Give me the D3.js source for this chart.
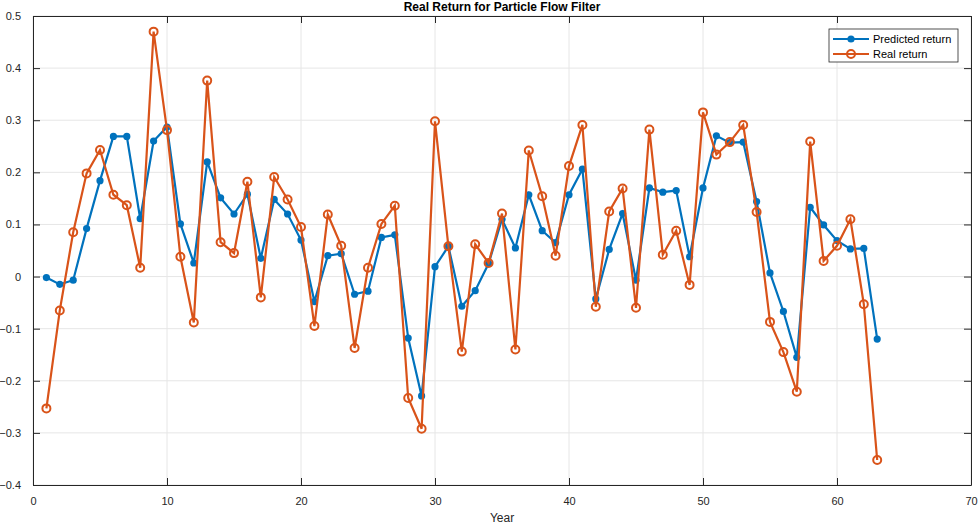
<!DOCTYPE html>
<html>
<head>
<meta charset="utf-8">
<script src="https://cdn.jsdelivr.net/npm/d3@7"></script>
<style>
  body { margin: 0; background: #fff; }
  svg { font-family: "Liberation Sans", Arial, sans-serif; }
</style>
</head>
<body>
<div id="chart"></div>
<script>
var years = d3.range(1, 64);
var predicted = [-0.002, -0.015, -0.007, 0.092, 0.184, 0.269, 0.269, 0.111, 0.260, 0.287,
  0.101, 0.026, 0.220, 0.151, 0.120, 0.158, 0.035, 0.148, 0.120, 0.070,
  -0.048, 0.040, 0.044, -0.034, -0.028, 0.075, 0.080, -0.118, -0.229, 0.019,
  0.058, -0.057, -0.027, 0.025, 0.110, 0.055, 0.157, 0.088, 0.065, 0.157,
  0.206, -0.043, 0.052, 0.121, -0.007, 0.170, 0.162, 0.165, 0.038, 0.170,
  0.270, 0.257, 0.258, 0.144, 0.007, -0.067, -0.155, 0.133, 0.099, 0.069,
  0.053, 0.054, -0.120];
var real = [-0.253, -0.065, 0.085, 0.198, 0.243, 0.157, 0.137, 0.017, 0.470, 0.281,
  0.038, -0.088, 0.376, 0.066, 0.045, 0.182, -0.040, 0.191, 0.148, 0.095,
  -0.095, 0.119, 0.059, -0.137, 0.017, 0.101, 0.136, -0.233, -0.292, 0.298,
  0.058, -0.144, 0.062, 0.026, 0.121, -0.140, 0.242, 0.154, 0.040, 0.212,
  0.291, -0.058, 0.125, 0.169, -0.060, 0.282, 0.042, 0.088, -0.016, 0.315,
  0.234, 0.258, 0.291, 0.124, -0.087, -0.145, -0.221, 0.259, 0.030, 0.059,
  0.110, -0.053, -0.352];
var xTicks = d3.range(0, 71, 10);
var yTicks = [-0.4, -0.3, -0.2, -0.1, 0, 0.1, 0.2, 0.3, 0.4, 0.5];

var width = 980, height = 531;
var margin = {top: 16, right: 9, bottom: 46, left: 33};
var blue = "#0072BD", orange = "#D95319";

var svg = d3.select("#chart").append("svg")
  .attr("width", width).attr("height", height);

var x = d3.scaleLinear().domain([0, 70]).range([margin.left, width - margin.right]);
var y = d3.scaleLinear().domain([-0.4, 0.5]).range([height - margin.bottom, margin.top]);

// grid
svg.append("g").selectAll("line.gx").data(xTicks).enter().append("line")
  .attr("x1", d => x(d)).attr("x2", d => x(d))
  .attr("y1", y(-0.4)).attr("y2", y(0.5))
  .attr("stroke", "#e6e6e6").attr("stroke-width", 1);
svg.append("g").selectAll("line.gy").data(yTicks).enter().append("line")
  .attr("y1", d => y(d)).attr("y2", d => y(d))
  .attr("x1", x(0)).attr("x2", x(70))
  .attr("stroke", "#e6e6e6").attr("stroke-width", 1);

// axes (ticks inside, MATLAB style)
var fmt = d => (d === 0 ? "0" : d3.format(".1f")(d));
var xAxis = svg.append("g").attr("transform", "translate(0," + y(-0.4) + ")")
  .call(d3.axisBottom(x).tickValues(xTicks).tickSizeInner(-7).tickSizeOuter(0).tickPadding(12));
var xTop = svg.append("g").attr("transform", "translate(0," + y(0.5) + ")")
  .call(d3.axisTop(x).tickValues(xTicks).tickSizeInner(-7).tickSizeOuter(0).tickFormat(""));
var yAxis = svg.append("g").attr("transform", "translate(" + x(0) + ",0)")
  .call(d3.axisLeft(y).tickValues(yTicks).tickFormat(fmt).tickSizeInner(-7).tickSizeOuter(0).tickPadding(12));
var yRight = svg.append("g").attr("transform", "translate(" + x(70) + ",0)")
  .call(d3.axisRight(y).tickValues(yTicks).tickSizeInner(-7).tickSizeOuter(0).tickFormat(""));

[xAxis, xTop, yAxis, yRight].forEach(function(g) {
  g.select(".domain").attr("stroke", "#262626").attr("stroke-width", 1);
  g.selectAll(".tick line").attr("stroke", "#262626");
  g.selectAll(".tick text").attr("fill", "#262626").style("font-size", "11px");
});

// lines
var line = d3.line().x((d, i) => x(years[i])).y(d => y(d));

svg.append("path").datum(predicted).attr("d", line)
  .attr("fill", "none").attr("stroke", blue).attr("stroke-width", 2.2);
svg.append("g").selectAll("circle").data(predicted).enter().append("circle")
  .attr("cx", (d, i) => x(years[i])).attr("cy", d => y(d)).attr("r", 3.6)
  .attr("fill", blue);

svg.append("path").datum(real).attr("d", line)
  .attr("fill", "none").attr("stroke", orange).attr("stroke-width", 2.2);
svg.append("g").selectAll("circle").data(real).enter().append("circle")
  .attr("cx", (d, i) => x(years[i])).attr("cy", d => y(d)).attr("r", 4)
  .attr("fill", "none").attr("stroke", orange).attr("stroke-width", 2);

// title and label
svg.append("text").attr("x", (x(0) + x(70)) / 2).attr("y", 11)
  .attr("text-anchor", "middle").style("font-size", "12px").style("font-weight", "bold")
  .attr("fill", "#000").text("Real Return for Particle Flow Filter");
svg.append("text").attr("x", (x(0) + x(70)) / 2).attr("y", 522)
  .attr("text-anchor", "middle").style("font-size", "12px").attr("fill", "#262626")
  .text("Year");

// legend
var legend = svg.append("g").attr("transform", "translate(829,29)");
legend.append("rect").attr("width", 129).attr("height", 33)
  .attr("fill", "#fff").attr("stroke", "#262626").attr("stroke-width", 0.8);
var items = [{name: "Predicted return", color: blue, filled: true},
             {name: "Real return", color: orange, filled: false}];
items.forEach(function(it, i) {
  var yy = 10 + i * 15;
  legend.append("line").attr("x1", 4).attr("x2", 40).attr("y1", yy).attr("y2", yy)
    .attr("stroke", it.color).attr("stroke-width", 2.2);
  legend.append("circle").attr("cx", 22).attr("cy", yy).attr("r", it.filled ? 3.6 : 4)
    .attr("fill", it.filled ? it.color : "none")
    .attr("stroke", it.filled ? "none" : it.color).attr("stroke-width", 2);
  legend.append("text").attr("x", 44).attr("y", yy + 4).style("font-size", "11px")
    .attr("fill", "#000").text(it.name);
});
</script>
</body>
</html>
